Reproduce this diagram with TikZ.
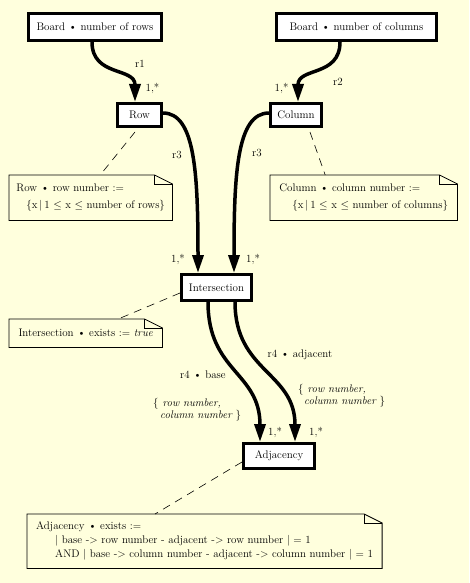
\documentclass[tikz,border=0pt]{standalone}
\usepackage{tikz}
\usetikzlibrary{arrows.meta}

\definecolor{bgyellow}{RGB}{255,255,221}

\begin{document}
\begin{tikzpicture}[
    x=1pt, y=-1pt,
    font=\fontsize{11}{13}\selectfont,
    box/.style={draw, rectangle, line width=3, fill=white, inner sep=0, align=center},
    note/.style={rectangle, anchor=north west, inner xsep=6, inner ysep=0, align=left},
    lbl/.style={inner sep=0},
    setlbl/.style={inner sep=0, align=left, font=\fontsize{11}{12}\selectfont\itshape},
    rel/.style={draw, line width=3.5, -{Triangle[length=18pt,width=11pt]}},
    anno/.style={draw, line width=0.6, dash pattern=on 8pt off 6pt}
]

    % background and page size
    \fill[bgyellow] (0,0) rectangle (469,583);
    \useasboundingbox (0,0) rectangle (469,583);

    % Top: Board attributes
    \node[box, minimum width=133, minimum height=27] (board_rows) at (95, 27) {Board \textbullet{} number of rows};
    \node[box, minimum width=160, minimum height=27] (board_cols) at (356.5, 27) {Board \textbullet{} number of columns};

    \node[box, minimum width=44, minimum height=23] (row) at (139.5, 115) {Row};
    \node[box, minimum width=51, minimum height=23] (col) at (296, 115) {Column};

    \node[box, minimum width=70, minimum height=26] (inter) at (216.5, 287.5) {Intersection};
    \node[box, minimum width=71, minimum height=25] (adj) at (279, 456) {Adjacency};

    % notes
    \node[note, minimum width=163, minimum height=45] (row_note) at (9, 175)
        {Row \textbullet{} row number :=\\[4pt] \hspace{10pt}$\{$x$\,|\,$1 $\le$ x $\le$ number of rows$\}$};
    \node[note, minimum width=187, minimum height=45] (col_note) at (270, 175)
        {Column \textbullet{} column number :=\\[4pt] \hspace{13pt}$\{$x$\,|\,$1 $\le$ x $\le$ number of columns$\}$};
    \node[note, minimum width=153, minimum height=28, inner xsep=9] (inter_note) at (9, 319)
        {Intersection \textbullet{} exists := \textit{true}};
    \node[note, minimum width=351, minimum height=54, inner xsep=9] (adj_note) at (27, 514)
        {Adjacency \textbullet{} exists :=\\[1pt]
         \hspace{19pt}$|$ base -> row number - adjacent -> row number $|$ = 1\\[1pt]
         \hspace{19pt}AND $|$ base -> column number - adjacent -> column number $|$ = 1};

    \foreach \n in {row_note, col_note, inter_note, adj_note} {
        \draw[line width=0.8] (\n.south west) -- (\n.north west) -- ([xshift=-18]\n.north east)
            -- ([yshift=-9]\n.north east) -- (\n.south east) -- cycle;
        \draw[line width=0.8] ([xshift=-18]\n.north east) |- ([yshift=-9]\n.north east);
    }

    % relations
    \draw[rel] ([xshift=-3]board_rows.south) .. controls +(0,35) and +(0,-35) .. ([xshift=-4.5]row.north);
    \draw[rel] ([xshift=-16.5]board_cols.south) .. controls +(0,35) and +(0,-35) .. ([xshift=2]col.north);
    \draw[rel] ([yshift=2]row.east) .. controls +(32,0) and +(0,-100) .. ([xshift=-18.5]inter.north);
    \draw[rel] ([yshift=2]col.west) .. controls +(-32,0) and +(0,-100) .. ([xshift=17.5]inter.north);
    \draw[rel] ([xshift=-8.5]inter.south) .. controls +(0,70) and +(0,-70) .. ([xshift=-19]adj.north);
    \draw[rel] ([xshift=18.5]inter.south) .. controls +(0,70) and +(0,-70) .. ([xshift=16]adj.north);

    % note links
    \draw[anno] ([xshift=-4.5,yshift=-4]row.south) -- ([xshift=9.5]row_note.north);
    \draw[anno] ([xshift=14,yshift=-4]col.south) -- ([xshift=-38.5]col_note.north);
    \draw[anno] ([yshift=-5.5]inter.west) -- ([xshift=32.5]inter_note.north);
    \draw[anno] ([yshift=-6]adj.west) -- ([xshift=-49.5]adj_note.north);

    % labels
    \node[lbl] (r1_lbl) at (140, 64) {r1};
    \node[lbl] (r1_mult) at (152.5, 88) {1,*};
    \node[lbl] (r2_lbl) at (338, 82) {r2};
    \node[lbl] (r2_mult) at (281.5, 88) {1,*};
    \node[lbl] (r3_row_lbl) at (177, 155) {r3};
    \node[lbl] (r3_col_lbl) at (257, 153) {r3};
    \node[lbl] (r3_row_mult) at (178, 259) {1,*};
    \node[lbl] (r3_col_mult) at (253, 259) {1,*};
    \node[lbl] (r4_base_lbl) at (203, 375) {r4 \textbullet{} base};
    \node[lbl] (r4_adj_lbl) at (300, 355) {r4 \textbullet{} adjacent};
    \node[setlbl, anchor=north west] (r4_base_set) at (153, 398) {$\{$ row number,\\ \hspace{7pt}column number $\}$};
    \node[setlbl, anchor=north west] (r4_adj_set) at (298, 384) {$\{$ row number,\\ \hspace{6pt}column number $\}$};
    \node[lbl] (r4_base_mult) at (275, 432) {1,*};
    \node[lbl] (r4_adj_mult) at (316, 432) {1,*};

\end{tikzpicture}
\end{document}
